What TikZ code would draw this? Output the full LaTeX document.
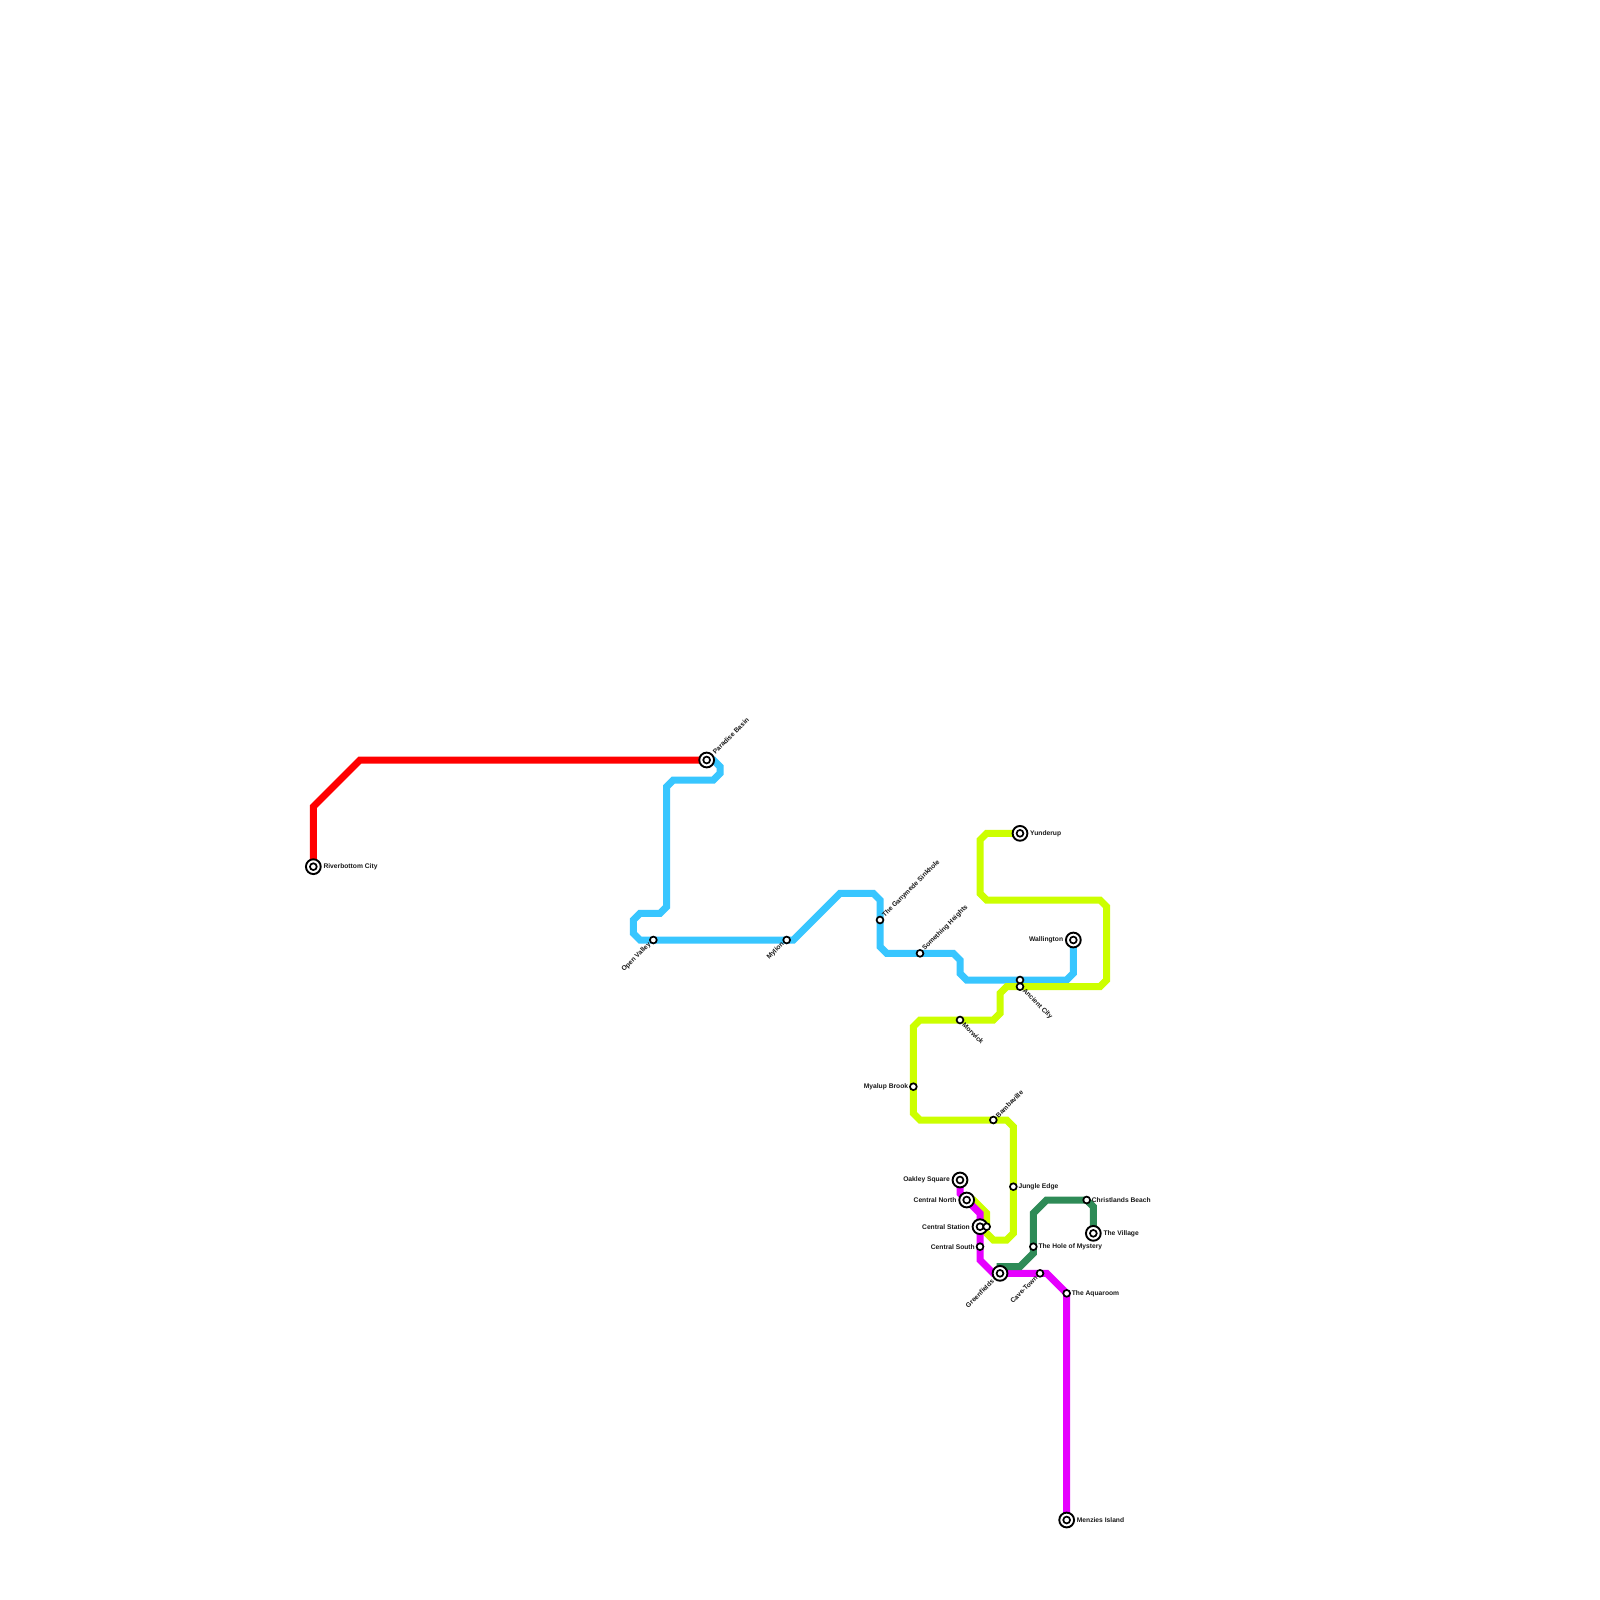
\documentclass[tikz,border=0pt]{standalone}
\usepackage{fontspec}
\setmainfont{Liberation Sans}
\definecolor{lred}{HTML}{FF0000}
\definecolor{lblue}{HTML}{38C6FF}
\definecolor{lyellow}{HTML}{CCFF00}
\definecolor{lgreen}{HTML}{2E8B57}
\definecolor{lmag}{HTML}{E600FF}
\tikzset{
  metro/.style={line width=7pt,line join=miter,miter limit=4},
  smallst/.style={circle,draw=black,fill=white,line width=1.7pt,minimum size=6.8pt,inner sep=0pt},
  bigst/.style={circle,draw=black,fill=white,line width=1.9pt,minimum size=14.8pt,inner sep=0pt},
  lbl/.style={font=\fontsize{6.7}{8}\bfseries\selectfont,text=black!90,inner sep=0pt},
  lE/.style={lbl,anchor=west},
  lW/.style={lbl,anchor=east},
  lNE/.style={lbl,anchor=west,rotate=45},
  lSE/.style={lbl,anchor=west,rotate=-45},
  lSW/.style={lbl,anchor=east,rotate=45},
}
\newcommand{\bigstation}[2]{\node[bigst] (#1) at (#2) {};\node[smallst] (#1-in) at (#2) {};}
\newcommand{\stationlabel}[4]{\node[#2] (#1-lbl) at ([shift={(#3)}]#1) {#4};}
\begin{document}
\begin{tikzpicture}[x=6.6667pt,y=-6.6667pt]
\useasboundingbox (0,0) rectangle (240,240);
\fill[white] (0,0) rectangle (240,240);
% coordinates of stations
\coordinate (riverbottom) at (47,130);
\coordinate (paradise) at (106,114);
\coordinate (wallington) at (161,141);
\coordinate (yunderup) at (153,125);
\coordinate (oakley) at (144,177);
\coordinate (greenfields) at (150,191);
\coordinate (village) at (164,185);
\coordinate (menzies) at (160,228);
\coordinate (centralst) at (147,184);
\coordinate (y184) at (148,184);
% lines
\draw[metro,lblue] (paradise) -- (107,114) -- (108,115) -- (108,116) -- (107,117) -- (101,117) -- (100,118) -- (100,136) -- (99,137) -- (96,137) -- (95,138) -- (95,140) -- (96,141) -- (119,141) -- (126,134) -- (131,134) -- (132,135) -- (132,142) -- (133,143) -- (143,143) -- (144,144) -- (144,146) -- (145,147) -- (160,147) -- (161,146) -- (wallington);
\draw[metro,lyellow] (yunderup) -- (148,125) -- (147,126) -- (147,134) -- (148,135) -- (165,135) -- (166,136) -- (166,147) -- (165,148) -- (151,148) -- (150,149) -- (150,152) -- (149,153) -- (138,153) -- (137,154) -- (137,167) -- (138,168) -- (151,168) -- (152,169) -- (152,185) -- (151,186) -- (149,186) -- (centralst);
\draw[metro,lyellow] (145,180) -- (146,180) -- (148,182) -- (y184);
\draw[metro,lmag] (oakley) -- (144,179) -- (147,182) -- (147,189) -- (149,191) -- (157,191) -- (160,194) -- (menzies);
\draw[metro,lgreen] (greenfields) -- (150,190) -- (153,190) -- (155,188) -- (155,182) -- (157,180) -- (163,180) -- (164,181) -- (village);
\draw[metro,lred] (riverbottom) -- (47,121) -- (54,114) -- (paradise);
% stations
\bigstation{riverbottom}{47,130}
\bigstation{paradise}{106,114}
\bigstation{wallington}{161,141}
\bigstation{yunderup}{153,125}
\bigstation{oakley}{144,177}
\bigstation{centralnorth}{145,180}
\bigstation{centralst}{147,184}
\bigstation{greenfields}{150,191}
\bigstation{village}{164,185}
\bigstation{menzies}{160,228}
\node[smallst] (y184n) at (148,184) {};
\node[smallst] (openvalley) at (98,141) {};
\node[smallst] (mylion) at (118,141) {};
\node[smallst] (ganymede) at (132,138) {};
\node[smallst] (something) at (138,143) {};
\node[smallst] (ancientb) at (153,147) {};
\node[smallst] (ancient) at (153,148) {};
\node[smallst] (morwick) at (144,153) {};
\node[smallst] (myalup) at (137,163) {};
\node[smallst] (bamba) at (149,168) {};
\node[smallst] (jungle) at (152,178) {};
\node[smallst] (christlands) at (163,180) {};
\node[smallst] (hole) at (155,187) {};
\node[smallst] (centralsouth) at (147,187) {};
\node[smallst] (cavetown) at (156,191) {};
\node[smallst] (aquaroom) at (160,194) {};
% labels
\stationlabel{riverbottom}{lE}{10pt,-0.5pt}{Riverbottom City}
\stationlabel{paradise}{lNE}{7pt,7pt}{Paradise Basin}
\stationlabel{wallington}{lW}{-10pt,0pt}{Wallington}
\stationlabel{yunderup}{lE}{10pt,0pt}{Yunderup}
\stationlabel{oakley}{lW}{-10pt,0pt}{Oakley Square}
\stationlabel{centralnorth}{lW}{-10pt,0pt}{Central North}
\stationlabel{centralst}{lW}{-10pt,0pt}{Central Station}
\stationlabel{greenfields}{lSW}{-7pt,-7pt}{Greenfields}
\stationlabel{village}{lE}{10pt,0pt}{The Village}
\stationlabel{menzies}{lE}{10pt,0pt}{Menzies Island}
\stationlabel{openvalley}{lSW}{-3.5pt,-3.5pt}{Open Valley}
\stationlabel{mylion}{lSW}{-3.5pt,-3.5pt}{Mylion}
\stationlabel{ganymede}{lNE}{3.5pt,3.5pt}{The Ganymede Sinkhole}
\stationlabel{something}{lNE}{3.5pt,3.5pt}{Something Heights}
\stationlabel{ancient}{lSE}{3.5pt,-3.5pt}{Ancient City}
\stationlabel{morwick}{lSE}{3.5pt,-3.5pt}{Morwick}
\stationlabel{myalup}{lW}{-5pt,0pt}{Myalup Brook}
\stationlabel{bamba}{lNE}{3.5pt,3.5pt}{Bambaville}
\stationlabel{jungle}{lE}{5pt,0pt}{Jungle Edge}
\stationlabel{christlands}{lE}{5pt,0pt}{Christlands Beach}
\stationlabel{hole}{lE}{5pt,0pt}{The Hole of Mystery}
\stationlabel{centralsouth}{lW}{-5pt,0pt}{Central South}
\stationlabel{cavetown}{lSW}{-3.5pt,-3.5pt}{Cave-Town}
\stationlabel{aquaroom}{lE}{5pt,0pt}{The Aquaroom}
\end{tikzpicture}
\end{document}
